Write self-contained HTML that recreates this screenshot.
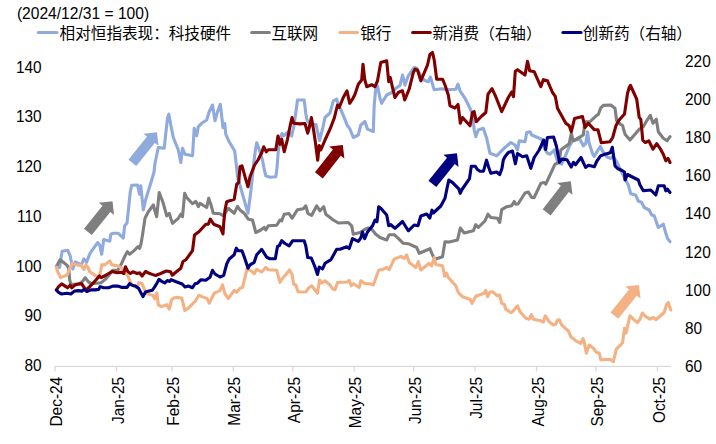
<!DOCTYPE html>
<html><head><meta charset="utf-8"><title>chart</title>
<style>html,body{margin:0;padding:0;background:#fff}svg{display:block}</style></head>
<body>
<svg width="716" height="444" viewBox="0 0 716 444">
<rect width="716" height="444" fill="#fff"/>
<path d="M55,366.3 H671" stroke="#d9d9d9" stroke-width="1.3" fill="none"/>
<path d="M55.00,366.3 V371.5" stroke="#d9d9d9" stroke-width="1.3" fill="none"/>
<path d="M116.43,366.3 V371.5" stroke="#d9d9d9" stroke-width="1.3" fill="none"/>
<path d="M171.91,366.3 V371.5" stroke="#d9d9d9" stroke-width="1.3" fill="none"/>
<path d="M233.34,366.3 V371.5" stroke="#d9d9d9" stroke-width="1.3" fill="none"/>
<path d="M292.79,366.3 V371.5" stroke="#d9d9d9" stroke-width="1.3" fill="none"/>
<path d="M354.22,366.3 V371.5" stroke="#d9d9d9" stroke-width="1.3" fill="none"/>
<path d="M413.67,366.3 V371.5" stroke="#d9d9d9" stroke-width="1.3" fill="none"/>
<path d="M475.09,366.3 V371.5" stroke="#d9d9d9" stroke-width="1.3" fill="none"/>
<path d="M536.52,366.3 V371.5" stroke="#d9d9d9" stroke-width="1.3" fill="none"/>
<path d="M595.97,366.3 V371.5" stroke="#d9d9d9" stroke-width="1.3" fill="none"/>
<path d="M657.40,366.3 V371.5" stroke="#d9d9d9" stroke-width="1.3" fill="none"/>
<g font-family="Liberation Sans, sans-serif" font-size="15.4" fill="#000000">
<text x="16.9" y="19.3" font-size="15.6">(2024/12/31 = 100)</text>
<text transform="translate(41.6,72.70) scale(0.906,1)" font-size="17" text-anchor="end">140</text>
<text transform="translate(41.6,122.45) scale(0.906,1)" font-size="17" text-anchor="end">130</text>
<text transform="translate(41.6,172.20) scale(0.906,1)" font-size="17" text-anchor="end">120</text>
<text transform="translate(41.6,221.95) scale(0.906,1)" font-size="17" text-anchor="end">110</text>
<text transform="translate(41.6,271.70) scale(0.906,1)" font-size="17" text-anchor="end">100</text>
<text transform="translate(41.6,321.45) scale(0.906,1)" font-size="17" text-anchor="end">90</text>
<text transform="translate(41.6,371.20) scale(0.906,1)" font-size="17" text-anchor="end">80</text>
<text transform="translate(685.0,66.70) scale(0.906,1)" font-size="17">220</text>
<text transform="translate(685.0,104.87) scale(0.906,1)" font-size="17">200</text>
<text transform="translate(685.0,143.04) scale(0.906,1)" font-size="17">180</text>
<text transform="translate(685.0,181.21) scale(0.906,1)" font-size="17">160</text>
<text transform="translate(685.0,219.38) scale(0.906,1)" font-size="17">140</text>
<text transform="translate(685.0,257.55) scale(0.906,1)" font-size="17">120</text>
<text transform="translate(685.0,295.72) scale(0.906,1)" font-size="17">100</text>
<text transform="translate(685.0,333.89) scale(0.906,1)" font-size="17">80</text>
<text transform="translate(685.0,372.06) scale(0.906,1)" font-size="17">60</text>
<text transform="translate(62.10,376.8) rotate(-90) scale(0.965,1)" font-size="16.0" text-anchor="end">Dec-24</text>
<text transform="translate(123.53,376.8) rotate(-90) scale(0.965,1)" font-size="16.0" text-anchor="end">Jan-25</text>
<text transform="translate(179.01,376.8) rotate(-90) scale(0.965,1)" font-size="16.0" text-anchor="end">Feb-25</text>
<text transform="translate(240.44,376.8) rotate(-90) scale(0.965,1)" font-size="16.0" text-anchor="end">Mar-25</text>
<text transform="translate(299.89,376.8) rotate(-90) scale(0.965,1)" font-size="16.0" text-anchor="end">Apr-25</text>
<text transform="translate(361.32,376.8) rotate(-90) scale(0.965,1)" font-size="16.0" text-anchor="end">May-25</text>
<text transform="translate(420.77,376.8) rotate(-90) scale(0.965,1)" font-size="16.0" text-anchor="end">Jun-25</text>
<text transform="translate(482.19,376.8) rotate(-90) scale(0.965,1)" font-size="16.0" text-anchor="end">Jul-25</text>
<text transform="translate(543.62,376.8) rotate(-90) scale(0.965,1)" font-size="16.0" text-anchor="end">Aug-25</text>
<text transform="translate(603.07,376.8) rotate(-90) scale(0.965,1)" font-size="16.0" text-anchor="end">Sep-25</text>
<text transform="translate(664.50,376.8) rotate(-90) scale(0.965,1)" font-size="16.0" text-anchor="end">Oct-25</text>
</g>
<path d="M38.3,32.55 H57.0" stroke="#8faadc" stroke-width="3.1" stroke-linecap="round" fill="none"/>
<text x="59.6" y="38.6" font-family="Liberation Sans, Noto Sans CJK SC, sans-serif" font-size="15.6" fill="#000000">相对恒指表现：科技硬件</text>
<path d="M251.7,32.55 H269.4" stroke="#7f7f7f" stroke-width="3.1" stroke-linecap="round" fill="none"/>
<text x="271.4" y="38.6" font-family="Liberation Sans, Noto Sans CJK SC, sans-serif" font-size="15.6" fill="#000000">互联网</text>
<path d="M339.9,32.55 H357.5" stroke="#f4b183" stroke-width="3.1" stroke-linecap="round" fill="none"/>
<text x="360.2" y="38.6" font-family="Liberation Sans, Noto Sans CJK SC, sans-serif" font-size="15.6" fill="#000000">银行</text>
<path d="M412.6,32.55 H430.3" stroke="#800000" stroke-width="3.1" stroke-linecap="round" fill="none"/>
<text x="432.4" y="38.6" font-family="Liberation Sans, Noto Sans CJK SC, sans-serif" font-size="15.6" fill="#000000">新消费（右轴）</text>
<path d="M562.9,32.55 H581.0" stroke="#000080" stroke-width="3.1" stroke-linecap="round" fill="none"/>
<text x="582.8" y="38.6" font-family="Liberation Sans, Noto Sans CJK SC, sans-serif" font-size="15.6" fill="#000000">创新药（右轴）</text>
<polygon fill="#7f7f7f" points="91.8,235.1 110.3,212.0 114.0,214.9 112.5,201.3 98.9,202.8 102.5,205.7 84.0,228.8"/>
<polygon fill="#8faadc" points="136.3,166.0 154.8,142.9 158.5,145.8 157.0,132.2 143.4,133.7 147.0,136.6 128.5,159.7"/>
<polygon fill="#800000" points="322.8,178.5 340.7,155.7 344.4,158.6 342.8,145.0 329.2,146.6 332.9,149.5 315.0,172.3"/>
<polygon fill="#000080" points="436.3,187.1 454.8,164.0 458.5,166.9 457.0,153.3 443.4,154.8 447.0,157.7 428.5,180.8"/>
<polygon fill="#7f7f7f" points="550.6,215.4 568.8,191.9 572.5,194.8 570.8,181.2 557.2,182.9 560.9,185.8 542.7,209.3"/>
<polygon fill="#f4b183" points="618.3,318.8 636.8,295.7 640.5,298.6 639.0,285.0 625.4,286.5 629.0,289.4 610.5,312.5"/>
<path d="M56.4,266.5 L59.6,267.5 L62.1,251.2 L67.7,250.2 L70.3,256.3 L72.8,269.0 L75.3,261.9 L79.4,263.9 L81.4,264.4 L83.9,258.8 L86.5,262.4 L90.0,253.3 L97.6,242.6 L99.7,245.1 L101.7,254.3 L103.7,239.6 L107.3,240.6 L109.8,241.1 L110.8,234.2 L113.3,233.3 L118.3,233.3 L123.3,238.0 L124.6,226.0 L127.0,223.0 L128.5,209.0 L130.3,191.7 L131.7,185.3 L137.5,185.0 L139.5,194.2 L140.8,185.8 L143.3,210.0 L145.8,199.2 L151.7,180.0 L154.0,172.0 L155.0,163.3 L158.3,147.5 L164.2,148.3 L165.8,133.3 L167.5,118.3 L168.8,114.2 L170.8,125.0 L173.3,137.5 L178.3,150.0 L180.8,162.5 L182.5,148.3 L185.0,154.2 L192.5,155.8 L194.2,128.3 L196.7,135.8 L198.3,126.7 L201.7,123.3 L206.7,120.0 L209.2,111.7 L212.5,105.0 L215.0,120.8 L217.5,111.8 L220.3,104.3 L221.7,116.0 L223.0,127.7 L224.7,123.5 L225.8,134.3 L229.2,141.8 L234.7,151.0 L236.0,162.0 L237.5,176.7 L248.0,213.3 L251.0,190.0 L253.5,165.0 L255.3,151.0 L256.7,142.7 L259.2,149.3 L262.5,160.2 L264.0,168.0 L265.8,175.8 L270.0,177.2 L275.8,176.7 L277.0,168.0 L278.3,151.0 L280.8,136.8 L282.0,133.5 L283.3,136.0 L288.3,131.8 L291.7,136.0 L294.2,124.5 L295.8,112.7 L297.5,100.0 L304.2,100.0 L305.8,113.5 L307.0,120.0 L310.0,124.0 L316.0,124.5 L319.5,140.5 L322.5,129.2 L325.0,117.5 L330.0,113.0 L333.3,100.8 L336.7,99.2 L338.3,104.2 L341.7,111.7 L345.8,121.7 L347.5,125.8 L350.0,129.2 L353.3,137.5 L358.3,135.0 L360.8,125.0 L365.0,121.5 L367.5,129.2 L373.3,131.7 L374.2,105.0 L375.8,88.3 L377.5,86.0 L380.0,98.3 L381.7,103.3 L386.7,95.0 L391.7,92.5 L395.8,88.3 L400.0,85.5 L402.5,75.0 L405.0,85.0 L408.3,75.8 L414.2,67.5 L416.7,68.0 L420.0,74.0 L424.2,80.3 L428.3,81.7 L430.3,77.0 L434.2,89.7 L441.7,88.7 L446.7,89.7 L455.8,89.2 L458.0,84.2 L460.0,90.8 L465.0,98.3 L470.0,108.3 L472.0,113.3 L473.3,121.7 L474.2,130.0 L475.8,136.7 L478.3,130.0 L483.3,128.3 L486.7,138.3 L490.0,153.3 L496.7,155.8 L500.8,151.7 L505.8,146.7 L510.8,142.5 L515.0,145.0 L517.5,150.0 L519.2,140.8 L525.0,141.7 L526.7,132.5 L530.0,131.7 L531.7,135.0 L541.7,139.2 L544.2,148.3 L547.5,153.3 L550.0,154.2 L554.2,150.0 L557.5,161.7 L561.7,164.2 L565.8,155.0 L569.2,146.7 L572.5,140.8 L580.0,139.2 L583.3,145.8 L585.8,143.3 L587.5,131.7 L589.2,143.3 L592.5,153.5 L594.2,156.5 L596.8,152.1 L600.3,146.5 L603.0,152.0 L607.0,157.0 L610.6,158.4 L613.2,156.5 L616.9,162.0 L621.5,171.8 L626.7,182.0 L628.3,185.0 L630.8,193.8 L635.5,195.0 L638.3,201.0 L641.7,202.5 L644.2,207.5 L649.2,210.0 L651.7,215.0 L654.2,215.8 L658.3,227.5 L663.3,224.2 L665.8,233.3 L667.5,238.3 L670.0,241.7" fill="none" stroke="#8faadc" stroke-width="3.1" stroke-linejoin="round" stroke-linecap="round"/>
<path d="M56.4,266.5 L60.1,259.8 L63.0,262.0 L67.2,265.4 L68.7,268.5 L69.7,280.0 L70.9,284.4 L74.3,284.4 L79.3,283.9 L82.7,281.1 L85.2,277.7 L88.5,281.9 L91.0,283.6 L96.9,283.2 L101.1,282.7 L105.3,279.4 L110.3,273.5 L112.8,270.2 L117.8,270.2 L121.2,264.3 L124.5,256.8 L127.4,251.7 L129.6,254.2 L133.8,250.9 L138.0,246.7 L139.6,248.4 L141.0,244.0 L142.5,235.0 L145.0,218.3 L148.3,211.7 L153.3,205.0 L156.7,216.7 L159.2,192.5 L163.3,203.3 L166.7,215.8 L169.2,213.3 L171.0,219.0 L172.5,223.3 L178.3,218.3 L180.8,214.2 L182.5,216.7 L184.7,193.3 L186.7,197.5 L192.5,203.7 L195.8,201.3 L198.3,206.7 L200.0,203.3 L206.7,207.5 L208.7,198.3 L210.8,204.2 L213.3,213.3 L220.0,213.7 L223.3,215.8 L228.3,208.3 L234.2,213.3 L237.5,206.3 L240.0,210.0 L244.2,213.3 L248.3,219.2 L252.5,220.0 L255.8,232.5 L260.8,230.0 L264.2,227.5 L265.8,230.0 L268.3,225.8 L276.7,225.3 L280.0,220.0 L281.7,220.8 L284.2,214.2 L289.0,213.5 L292.0,218.3 L297.5,209.7 L303.3,208.7 L305.8,205.8 L308.0,213.7 L311.7,215.3 L316.7,205.8 L320.0,210.8 L323.7,206.7 L325.8,214.2 L333.3,220.0 L338.3,223.0 L348.3,222.5 L351.7,225.8 L353.3,234.2 L360.0,232.5 L365.0,229.2 L368.3,228.0 L371.7,229.2 L375.8,234.2 L380.0,237.5 L386.7,240.0 L389.2,234.7 L394.2,234.7 L398.3,238.3 L403.3,243.3 L408.3,243.7 L416.7,247.5 L419.2,253.3 L430.0,248.7 L432.5,255.0 L435.0,259.2 L442.5,256.7 L445.0,241.7 L449.2,242.0 L457.5,240.0 L460.3,228.0 L464.2,233.0 L473.3,230.8 L475.8,224.7 L478.3,227.5 L485.0,220.8 L488.0,214.2 L490.8,217.5 L497.5,218.3 L499.7,222.5 L501.7,209.7 L506.7,206.7 L511.7,205.8 L514.2,201.5 L515.8,204.2 L518.0,204.0 L525.0,193.0 L528.3,192.0 L531.7,197.5 L534.2,197.5 L540.8,183.3 L544.2,182.5 L545.8,184.2 L550.0,175.0 L555.0,164.2 L559.2,162.5 L560.8,150.0 L569.2,143.7 L571.3,133.3 L573.3,140.8 L583.3,135.0 L585.0,121.7 L590.0,121.7 L596.7,115.4 L598.3,114.5 L600.8,107.8 L603.3,105.4 L610.8,105.0 L615.0,108.2 L616.7,121.0 L620.8,124.5 L622.5,125.4 L625.0,134.2 L630.0,140.0 L635.0,134.2 L639.2,129.2 L643.3,126.7 L646.7,120.8 L650.3,115.3 L653.0,123.3 L656.3,119.2 L658.3,131.7 L663.3,138.3 L667.0,140.8 L670.0,136.7" fill="none" stroke="#7f7f7f" stroke-width="3.1" stroke-linejoin="round" stroke-linecap="round"/>
<path d="M56.4,267.0 L57.6,271.5 L60.6,277.6 L67.2,275.0 L69.7,268.5 L72.3,263.4 L76.3,264.9 L81.4,265.4 L83.9,269.5 L86.0,264.9 L88.0,267.5 L90.0,272.0 L95.6,275.6 L99.2,277.1 L100.7,270.5 L101.7,264.9 L104.7,264.9 L109.8,260.9 L111.8,264.9 L117.9,265.9 L122.0,268.5 L125.4,273.5 L127.9,276.0 L129.6,280.2 L131.3,284.4 L133.8,286.1 L137.1,287.8 L138.8,282.7 L142.1,283.6 L144.7,290.3 L146.3,293.3 L149.7,294.5 L152.8,295.3 L154.7,298.8 L156.8,292.8 L158.4,305.0 L161.6,306.6 L166.6,304.6 L169.2,309.0 L171.7,299.6 L174.2,297.7 L178.3,297.4 L181.8,298.1 L184.9,310.5 L188.1,308.4 L195.4,301.0 L198.8,295.3 L203.2,297.1 L207.0,298.4 L209.2,303.2 L214.2,293.2 L220.0,290.7 L222.5,284.8 L225.0,294.0 L228.3,298.7 L234.2,290.3 L236.7,292.3 L240.0,288.2 L242.5,287.3 L245.0,277.3 L247.0,269.0 L250.8,270.7 L254.2,273.7 L256.7,269.3 L261.7,272.0 L265.8,267.3 L268.3,269.8 L276.7,270.3 L280.0,282.3 L282.5,278.2 L286.0,274.5 L289.5,270.0 L292.0,274.2 L293.7,284.2 L295.8,285.0 L298.0,291.7 L305.8,292.0 L308.3,288.3 L311.7,285.8 L315.0,290.0 L317.5,293.3 L319.5,280.0 L321.7,283.0 L325.0,280.8 L330.0,285.0 L332.5,288.7 L335.0,289.7 L337.5,282.5 L347.5,282.0 L349.2,280.3 L351.3,285.8 L353.3,283.7 L359.2,287.5 L360.8,280.8 L365.0,283.7 L370.0,283.7 L373.3,285.0 L375.8,278.3 L378.7,270.3 L383.3,269.2 L386.7,267.5 L389.2,269.7 L394.2,259.2 L400.8,256.3 L404.2,258.3 L406.7,255.0 L409.2,262.5 L415.8,267.5 L418.3,261.7 L420.8,270.0 L429.2,263.3 L431.7,265.8 L434.2,257.5 L435.8,264.5 L442.5,265.8 L444.7,276.3 L446.3,273.0 L448.3,277.5 L455.8,285.8 L458.3,292.5 L462.5,296.7 L470.0,299.2 L472.0,303.3 L475.8,296.3 L484.2,293.3 L485.8,290.3 L487.5,296.7 L490.0,292.0 L492.5,291.7 L497.5,295.8 L499.7,295.0 L501.7,303.3 L504.2,304.2 L505.8,309.2 L510.8,312.5 L512.5,311.7 L517.5,305.8 L520.0,311.7 L525.8,318.3 L529.2,319.2 L531.3,314.7 L533.3,319.2 L540.8,320.8 L543.3,322.0 L545.3,315.8 L549.2,321.7 L553.3,325.0 L555.8,324.2 L557.5,320.0 L559.2,319.7 L561.7,325.0 L568.3,330.8 L570.8,336.7 L575.8,340.8 L580.8,343.3 L583.0,338.7 L584.2,341.7 L586.3,353.3 L589.2,345.0 L593.3,348.3 L596.7,352.5 L599.2,353.0 L600.8,359.7 L610.0,359.2 L613.3,361.7 L616.3,349.2 L622.5,343.0 L624.5,328.3 L626.0,333.0 L630.0,315.8 L633.3,319.2 L637.5,322.5 L640.0,319.2 L642.5,313.0 L645.8,316.7 L650.0,319.2 L653.3,317.5 L655.8,319.7 L664.2,312.5 L666.7,304.2 L668.3,302.5 L670.8,310.0" fill="none" stroke="#f4b183" stroke-width="3.1" stroke-linejoin="round" stroke-linecap="round"/>
<path d="M56.4,290.0 L58.4,286.9 L61.7,283.9 L65.1,286.1 L67.6,287.8 L70.1,285.2 L71.8,287.8 L75.1,284.9 L78.5,283.9 L81.8,283.9 L84.3,287.8 L86.0,289.9 L88.5,287.8 L93.5,282.7 L99.4,276.0 L101.1,277.7 L104.4,276.0 L112.0,271.5 L117.0,272.7 L121.2,272.2 L123.7,273.5 L125.4,266.8 L127.9,271.8 L130.4,273.5 L132.9,271.8 L137.1,273.5 L139.6,272.7 L142.1,276.0 L145.5,271.5 L148.9,273.2 L152.2,274.4 L155.6,275.5 L160.6,273.5 L166.4,271.0 L170.6,271.8 L172.3,275.2 L176.7,271.5 L180.8,268.2 L183.0,261.5 L185.8,259.8 L192.5,250.7 L194.5,235.0 L199.2,231.5 L205.8,224.2 L208.3,224.2 L210.3,219.2 L213.7,224.2 L220.0,226.7 L223.0,234.0 L223.7,223.3 L225.0,210.0 L226.7,201.7 L234.2,199.2 L236.7,184.2 L238.7,182.5 L240.0,166.7 L242.0,165.8 L245.0,176.7 L248.0,186.7 L250.0,176.7 L254.6,165.0 L258.0,160.0 L261.7,152.7 L263.7,146.8 L266.3,151.8 L268.3,149.7 L275.8,149.7 L278.0,136.0 L280.0,144.3 L281.7,139.3 L284.2,151.8 L287.5,139.3 L290.0,126.5 L292.0,117.5 L293.7,123.2 L300.0,123.9 L305.0,123.5 L307.7,133.2 L309.8,125.5 L311.4,117.6 L313.5,129.6 L315.5,143.0 L317.7,160.2 L319.2,145.5 L320.8,150.0 L325.0,140.0 L330.0,129.2 L334.2,118.3 L337.5,105.0 L339.2,107.5 L343.3,97.5 L347.0,90.8 L349.7,103.3 L352.5,99.2 L355.0,94.2 L358.3,84.2 L361.7,80.0 L363.0,64.2 L364.7,79.2 L366.7,86.7 L371.7,84.7 L375.0,86.7 L377.5,80.8 L380.8,62.5 L386.7,60.8 L388.7,81.7 L390.3,77.5 L392.5,87.5 L395.0,97.5 L398.3,92.5 L401.7,90.8 L402.5,90.8 L404.7,100.0 L409.2,89.2 L413.3,72.5 L415.0,69.2 L417.5,70.0 L420.8,80.8 L427.5,65.0 L430.0,54.2 L432.5,52.5 L434.2,60.0 L436.7,79.2 L442.5,79.2 L445.0,85.0 L448.3,95.0 L450.0,105.8 L455.0,108.0 L458.0,104.5 L460.0,120.0 L460.3,123.3 L462.5,117.5 L470.0,125.8 L472.5,112.5 L474.2,111.7 L476.3,121.7 L481.7,116.0 L485.8,112.5 L488.0,94.2 L492.0,88.7 L495.8,96.7 L501.7,111.7 L508.3,97.5 L511.7,92.0 L513.5,96.7 L515.3,71.2 L517.5,69.7 L525.0,75.0 L527.5,61.3 L529.7,70.8 L534.2,71.7 L540.8,86.7 L543.3,79.7 L547.5,80.8 L552.5,92.5 L555.3,96.3 L557.5,108.3 L565.8,123.3 L569.2,125.8 L571.3,131.7 L574.5,118.6 L582.5,116.5 L585.0,127.5 L588.3,123.3 L594.2,129.6 L598.0,129.8 L601.2,142.7 L610.0,141.7 L612.7,137.5 L616.0,125.5 L619.2,120.0 L624.5,114.0 L627.5,93.5 L629.2,87.5 L630.5,85.3 L633.7,92.5 L636.7,99.2 L639.2,117.5 L640.8,119.2 L642.8,140.4 L645.4,142.5 L648.8,140.8 L653.0,149.2 L656.7,143.7 L660.0,148.3 L663.3,154.2 L665.8,160.8 L668.0,158.3 L670.0,162.5" fill="none" stroke="#800000" stroke-width="3.1" stroke-linejoin="round" stroke-linecap="round"/>
<path d="M56.4,290.0 L58.4,292.3 L61.7,294.0 L66.7,293.3 L70.9,294.0 L74.3,291.1 L78.5,290.6 L81.8,291.1 L84.3,289.4 L86.8,291.6 L91.0,289.9 L95.2,289.9 L98.6,289.4 L100.2,286.6 L103.6,287.8 L108.6,287.8 L112.8,286.1 L117.8,286.1 L122.0,287.4 L127.1,287.4 L129.6,283.6 L132.1,285.2 L135.4,286.1 L138.8,288.6 L141.3,293.6 L143.0,296.6 L145.5,292.0 L148.9,291.1 L152.2,290.3 L154.7,286.9 L157.2,282.7 L158.9,279.4 L161.4,281.1 L164.7,283.0 L167.3,280.6 L169.8,281.4 L171.1,279.6 L175.5,281.5 L182.2,284.0 L185.0,287.0 L188.3,286.0 L192.5,287.7 L195.0,283.7 L197.5,283.2 L200.8,279.8 L205.8,280.3 L210.0,277.3 L212.5,270.3 L215.0,274.0 L220.0,277.0 L223.7,275.3 L226.7,264.0 L229.2,259.0 L234.2,254.8 L236.3,248.2 L238.3,250.7 L242.0,250.7 L245.0,259.0 L248.0,268.2 L250.0,264.8 L254.2,262.3 L256.7,254.8 L261.7,249.3 L266.7,257.3 L270.0,258.7 L275.3,258.7 L277.5,246.5 L279.2,245.7 L281.7,240.7 L285.0,243.5 L289.2,245.8 L292.5,240.8 L304.2,240.8 L305.8,246.0 L307.7,257.5 L311.3,258.0 L315.0,267.0 L317.5,274.5 L319.2,267.0 L322.5,269.0 L325.0,263.3 L331.0,259.6 L336.7,249.2 L340.0,249.2 L346.7,246.7 L349.2,248.5 L352.5,238.7 L358.3,241.3 L360.8,238.0 L362.5,232.0 L364.7,238.7 L367.5,232.0 L372.5,225.8 L375.0,220.0 L377.0,221.7 L378.7,206.7 L380.8,208.3 L386.7,215.0 L388.7,225.8 L390.8,224.7 L395.0,228.3 L402.5,221.5 L408.3,230.8 L414.2,225.0 L418.0,225.8 L420.8,216.0 L426.7,214.0 L429.8,218.0 L432.0,210.2 L433.3,213.0 L440.8,206.0 L445.0,198.3 L447.3,187.0 L448.8,180.0 L452.6,182.6 L458.8,188.8 L460.2,193.3 L462.0,189.5 L469.5,178.6 L471.3,166.2 L475.3,166.3 L477.4,169.5 L480.0,171.2 L483.5,171.2 L486.5,160.2 L488.5,166.7 L490.8,173.2 L496.7,172.0 L499.7,174.7 L502.0,168.3 L503.3,160.0 L505.0,156.7 L508.3,152.5 L512.5,151.0 L515.4,163.8 L517.5,153.5 L522.5,156.7 L526.7,155.8 L530.8,168.3 L534.2,157.5 L539.2,150.0 L543.7,140.0 L545.7,149.4 L547.4,137.5 L553.6,137.0 L556.5,146.5 L559.4,162.3 L562.0,159.1 L567.0,159.8 L571.2,167.0 L573.4,162.3 L575.5,164.8 L581.0,157.5 L585.6,167.4 L588.5,165.2 L594.3,166.8 L596.9,161.0 L600.8,155.7 L604.0,154.6 L610.3,152.7 L612.3,147.3 L615.0,165.9 L618.0,168.8 L622.0,170.5 L624.5,172.0 L625.0,180.0 L627.5,174.5 L633.3,177.5 L638.3,180.0 L640.0,185.0 L643.3,190.8 L650.8,190.0 L655.8,195.0 L658.3,185.8 L664.2,185.8 L665.8,190.8 L667.5,189.2 L670.0,192.5" fill="none" stroke="#000080" stroke-width="3.1" stroke-linejoin="round" stroke-linecap="round"/>
</svg>
</body></html>
